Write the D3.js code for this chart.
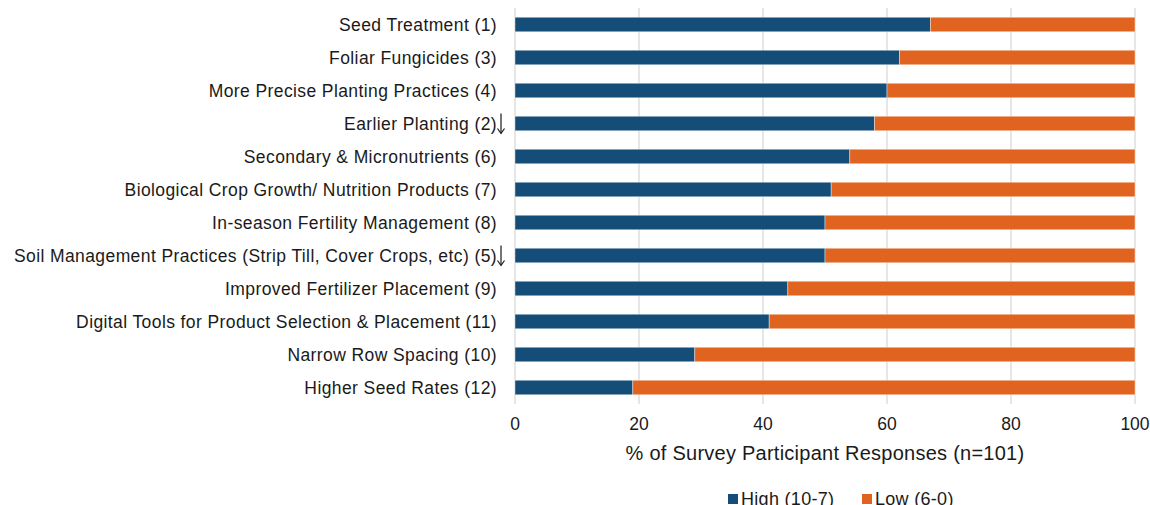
<!DOCTYPE html>
<html>
<head>
<meta charset="utf-8">
<script src="https://cdn.jsdelivr.net/npm/d3@7"></script>
<style>
  body { margin: 0; background: #fff; }
  svg { font-family: "Liberation Sans", Arial, sans-serif; }
</style>
</head>
<body>
<svg id="chart" width="1150" height="505"></svg>
<script>
// practices, ranked top to bottom; arrows mark a drop in rank
var practices = [
  "Seed Treatment (1)",
  "Foliar Fungicides (3)",
  "More Precise Planting Practices (4)",
  "Earlier Planting (2)",
  "Secondary & Micronutrients (6)",
  "Biological Crop Growth/ Nutrition Products (7)",
  "In-season Fertility Management (8)",
  "Soil Management Practices (Strip Till, Cover Crops, etc) (5)",
  "Improved Fertilizer Placement (9)",
  "Digital Tools for Product Selection & Placement (11)",
  "Narrow Row Spacing (10)",
  "Higher Seed Rates (12)"
];
var highValues = [67, 62, 60, 58, 54, 51, 50, 50, 44, 41, 29, 19];
var lowValues = highValues.map(v => 100 - v);
var downArrows = ["Earlier Planting (2)", "Soil Management Practices (Strip Till, Cover Crops, etc) (5)"];
var xTicks = [0, 20, 40, 60, 80, 100];
var seriesNames = ["High (10-7)", "Low (6-0)"];
var colors = ["#144d78", "#e0641f"];

var svg = d3.select("#chart");
var margin = { left: 515, right: 15, top: 8, bottom: 101 };
var width = 1150, height = 505;
var textColor = "#1a1a1a";

var rows = practices.map((p, i) => ({ name: p, high: highValues[i], low: lowValues[i] }));

var xScale = d3.scaleLinear()
  .domain([0, 100])
  .range([margin.left, width - margin.right]);

var yScale = d3.scaleBand()
  .domain(practices)
  .range([margin.top, height - margin.bottom])
  .paddingInner(0.56)
  .paddingOuter(0.28);

// gridlines
svg.append("g")
  .selectAll("line")
  .data(xTicks)
  .join("line")
  .attr("x1", d => xScale(d))
  .attr("x2", d => xScale(d))
  .attr("y1", margin.top)
  .attr("y2", height - margin.bottom)
  .attr("stroke", "#d9d9d9")
  .attr("stroke-width", 1.3);

var layers = d3.stack().keys(["high", "low"])(rows);

svg.append("g")
  .selectAll("g")
  .data(layers)
  .join("g")
  .attr("fill", (d, i) => colors[i])
  .selectAll("rect")
  .data(d => d)
  .join("rect")
  .attr("x", d => xScale(d[0]))
  .attr("y", d => yScale(d.data.name))
  .attr("width", d => xScale(d[1]) - xScale(d[0]))
  .attr("height", yScale.bandwidth())
  .attr("stroke", "#ffffff")
  .attr("stroke-opacity", 0.5)
  .attr("stroke-width", 0.8);

// category labels
svg.append("g")
  .selectAll("text")
  .data(practices)
  .join("text")
  .attr("x", 497)
  .attr("y", d => yScale(d) + yScale.bandwidth() / 2)
  .attr("dy", "0.35em")
  .attr("text-anchor", "end")
  .attr("font-size", 17.5)
  .attr("letter-spacing", 0.4)
  .attr("fill", textColor)
  .text(d => d);

// down arrows after labels that dropped in rank
var arrows = svg.append("g")
  .selectAll("g")
  .data(downArrows)
  .join("g")
  .attr("transform", d => `translate(501,${yScale(d) + yScale.bandwidth() / 2})`)
  .attr("stroke", textColor)
  .attr("stroke-width", 1.2)
  .attr("fill", "none");

arrows.append("line")
  .attr("x1", 0).attr("x2", 0)
  .attr("y1", -10).attr("y2", 9.5);

arrows.append("path")
  .attr("d", "M-3.5,5 L0,10 L3.5,5");

// x tick labels
svg.append("g")
  .selectAll("text")
  .data(xTicks)
  .join("text")
  .attr("x", d => xScale(d))
  .attr("y", 424)
  .attr("dy", "0.35em")
  .attr("text-anchor", "middle")
  .attr("font-size", 17.5)
  .attr("fill", textColor)
  .text(d => d);

svg.append("text")
  .attr("x", (xScale(0) + xScale(100)) / 2)
  .attr("y", 453)
  .attr("dy", "0.35em")
  .attr("text-anchor", "middle")
  .attr("font-size", 20)
  .attr("letter-spacing", 0.25)
  .attr("fill", textColor)
  .text("% of Survey Participant Responses (n=101)");

// legend
var legendX = [728, 862];
var legend = svg.append("g")
  .selectAll("g")
  .data(seriesNames)
  .join("g")
  .attr("transform", (d, i) => `translate(${legendX[i]},0)`);

legend.append("rect")
  .attr("x", 0)
  .attr("y", 494)
  .attr("width", 10)
  .attr("height", 10)
  .attr("fill", (d, i) => colors[i]);

legend.append("text")
  .attr("x", 13)
  .attr("y", 505)
  .attr("font-size", 18)
  .attr("letter-spacing", 0.3)
  .attr("fill", textColor)
  .text(d => d);
</script>
</body>
</html>
